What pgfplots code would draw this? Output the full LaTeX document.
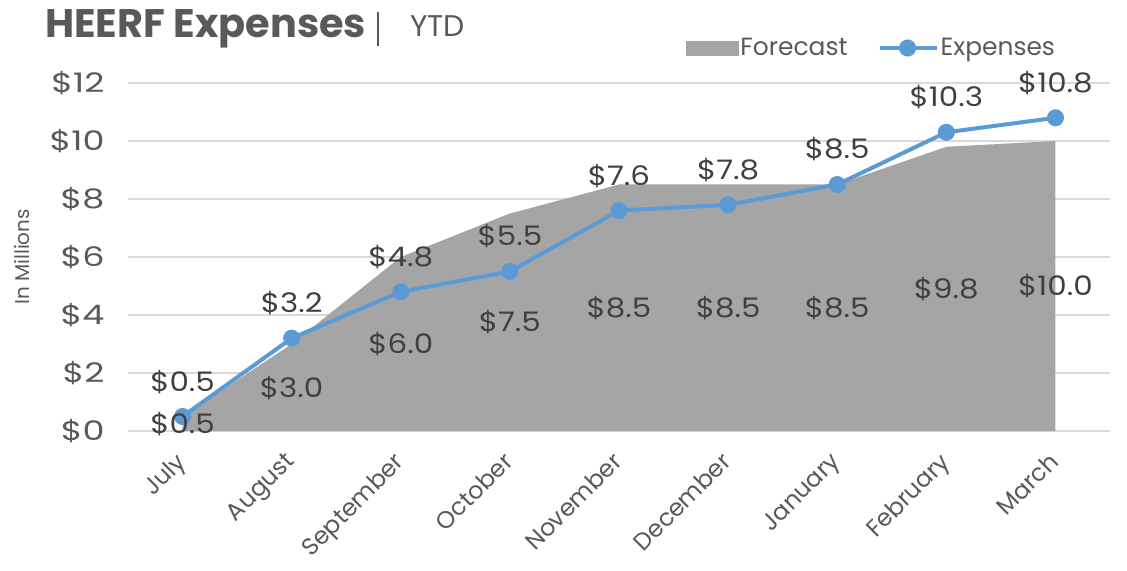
\documentclass[border=0pt]{standalone}
\usepackage{pgfplots}
\pgfplotsset{compat=1.18}
\usepackage{pgfplotstable}
\usepackage{fontspec}
\setmainfont{Poppins}
\newfontfamily\numfont{Poppins}[FakeStretch=1.3]
\newfontfamily\labfont{Poppins}[FakeStretch=1.15]
\definecolor{txt}{RGB}{89,89,89}
\definecolor{lab}{RGB}{64,64,64}
\definecolor{areagray}{RGB}{165,165,165}
\definecolor{lineblue}{RGB}{91,155,213}
\definecolor{gridc}{RGB}{217,217,217}
\pgfplotstableread{
x f e
0 0.5 0.5
1 3.0 3.2
2 6.0 4.8
3 7.5 5.5
4 8.5 7.6
5 8.5 7.8
6 8.5 8.5
7 9.8 10.3
8 10.0 10.8
}\data
\begin{document}
\begin{tikzpicture}
\path[use as bounding box] (0bp,0bp) rectangle (1127bp,571bp);
\node[anchor=base west, text=txt, font=\fontsize{40}{44}\selectfont\bfseries, inner sep=0pt] at (45bp,533bp) {HEERF Expenses};
\draw[txt, line width=2bp] (378bp,559bp) -- (378bp,525bp);
\node[anchor=base west, text=txt, font=\fontsize{30}{34}\selectfont, inner sep=0pt] at (410bp,534bp) {YTD};
\begin{axis}[
  at={(128bp,140bp)}, anchor=south west,
  scale only axis, width=982bp, height=348bp,
  xmin=-0.5, xmax=8.5, ymin=0, ymax=12,
  clip=false,
  axis line style={draw=none},
  major tick length=0pt,
  ymajorgrids, grid style={gridc, line width=1.5bp},
  ytick={0,2,4,6,8,10,12},
  yticklabels={\$0,\$2,\$4,\$6,\$8,\$10,\$12},
  xtick={0,...,8},
  xticklabels={July,August,September,October,November,December,January,February,March},
  /pgf/number format/assume math mode=true,
  tick label style={text=txt},
  yticklabel style={font=\numfont\fontsize{27}{30}\selectfont, xshift=-20bp},
  xticklabel style={xshift=-8bp, yshift=-15bp, font=\fontsize{24}{28}\selectfont, rotate=45, anchor=north east},
  ylabel={In Millions},
  every axis y label/.style={at={(axis description cs:-0.108,0.5)}, rotate=90, anchor=center, font=\fontsize{20}{22}\selectfont, text=txt},
  legend columns=2,
  legend style={at={(axis description cs:0.568,1.134)}, anchor=north west, draw=none, fill=none, inner sep=0pt, font=\fontsize{25}{28}\selectfont, text=txt, /tikz/every even column/.append style={column sep=28bp}},
  legend cell align=left,
]
\addplot[fill=areagray, draw=none, forget plot] table[x=x,y=f] {\data} \closedcycle;
\addlegendimage{legend image code/.code={\fill[areagray] (0bp,-7bp) rectangle (52bp,7bp);}}
\addlegendentry{Forecast}
\addplot[lineblue, line width=4bp, mark=*, mark size=6.5bp, mark options={fill=lineblue, draw=lineblue},
  nodes near coords={\$\pgfmathprintnumber[fixed,fixed zerofill,precision=1]{\pgfplotspointmeta}},
  every node near coord/.style={anchor=base, yshift=25.5bp, font=\labfont\fontsize{27}{30}\selectfont, text=lab, inner sep=0pt},
  point meta=\thisrow{e},
  legend image code/.code={\draw[lineblue, line width=4bp] (0bp,0bp) -- (57bp,0bp); \fill[lineblue] (28bp,0bp) circle (6.5bp);}
] table[x=x,y=e] {\data};
\addlegendentry{Expenses}
\addplot[draw=none, mark=none, forget plot,
  nodes near coords={\$\pgfmathprintnumber[fixed,fixed zerofill,precision=1]{\pgfplotspointmeta}},
  every node near coord/.style={anchor=base, yshift=-9.5bp, font=\labfont\fontsize{27}{30}\selectfont, text=lab, inner sep=0pt},
  point meta=\thisrow{f}
] table[x=x,y expr=\thisrow{f}/2] {\data};
\end{axis}
\end{tikzpicture}
\end{document}
